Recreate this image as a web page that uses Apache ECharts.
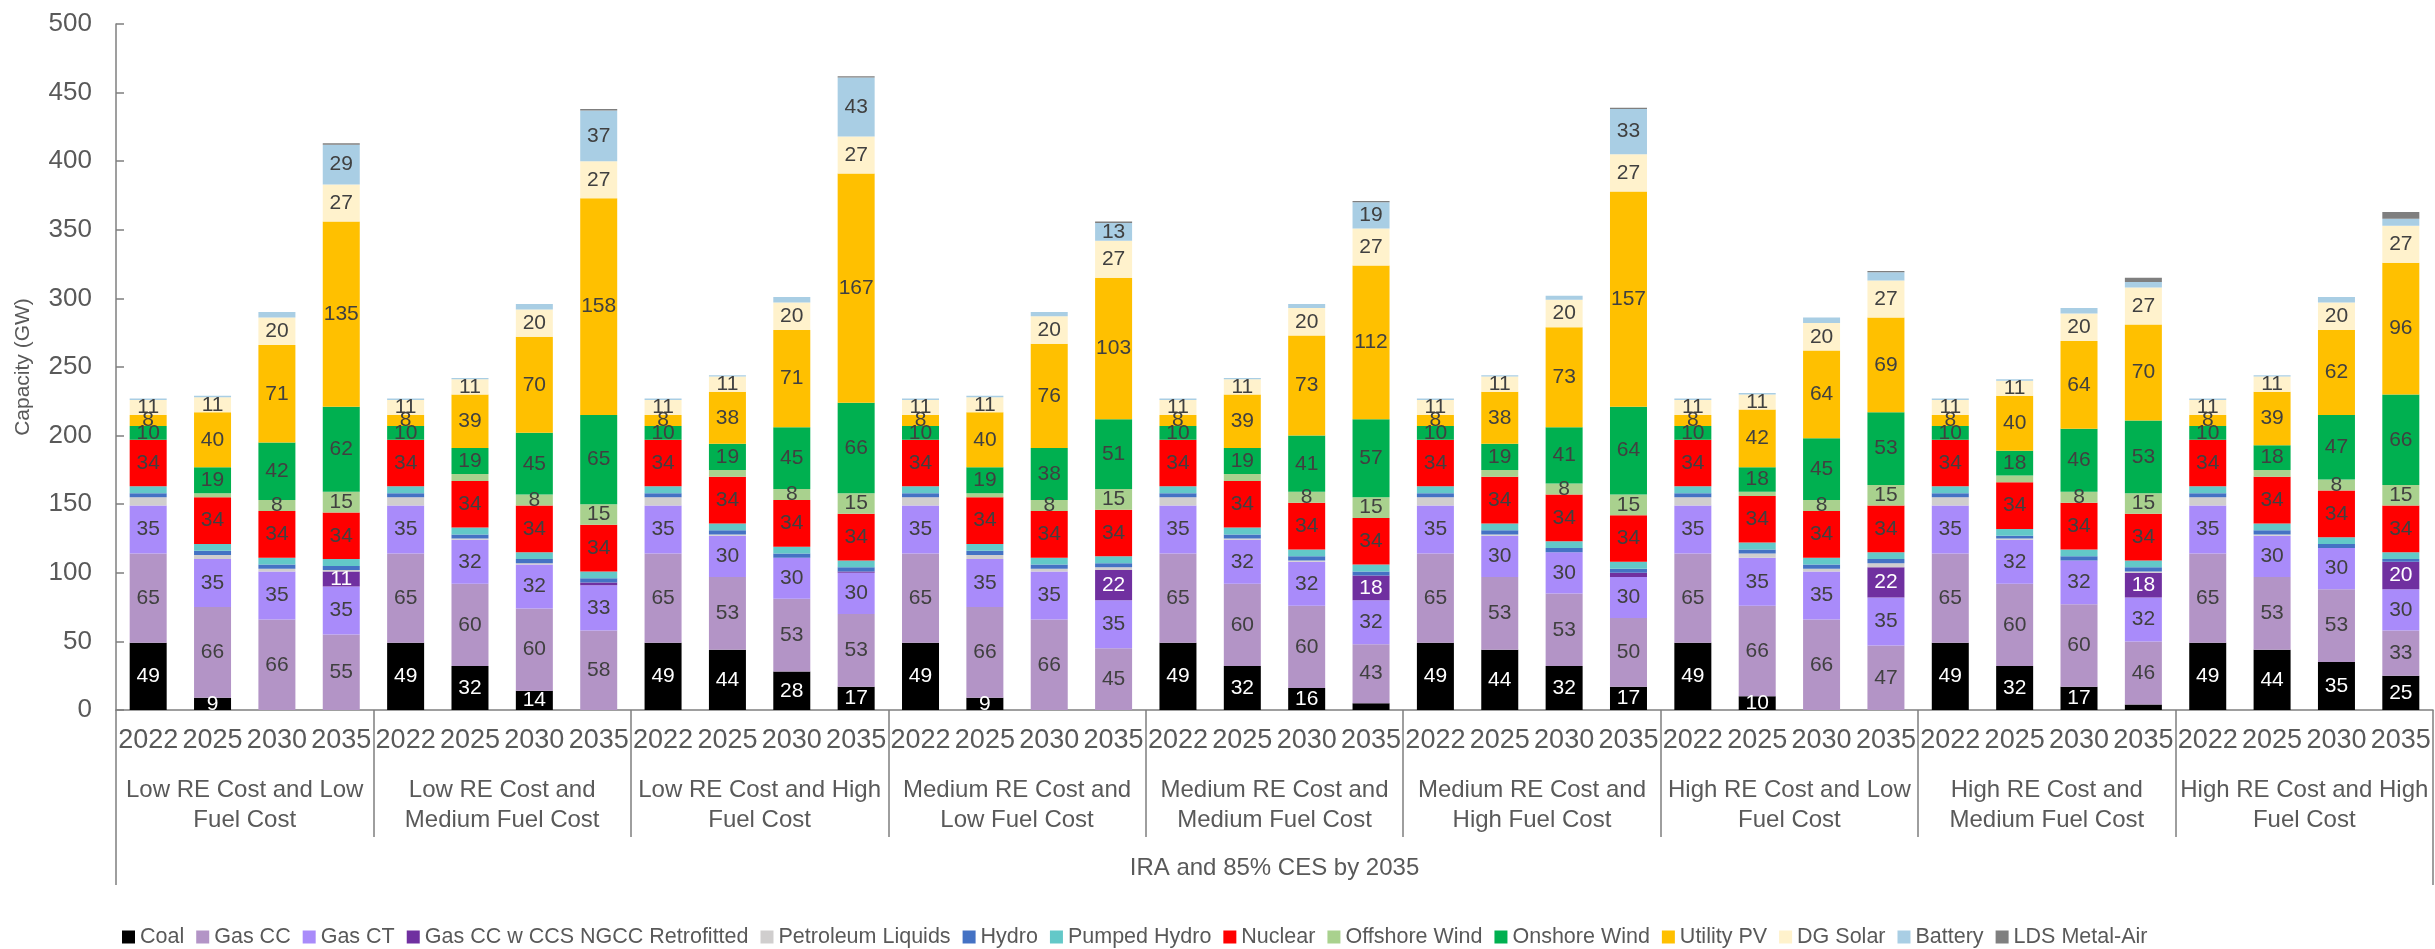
<!DOCTYPE html>
<html>
<head>
<meta charset="utf-8">
<script src="https://cdn.jsdelivr.net/npm/echarts@6/dist/echarts.min.js"></script>
<style>
  html, body { margin: 0; padding: 0; background: #fff; }
  #main { width: 2435px; height: 949px; }
</style>
</head>
<body>
<div id="main"></div>
<script>
// scenario groups, each with 4 years
var years = ['2022', '2025', '2030', '2035'];
var scenarios = [
  'Low RE Cost and Low\nFuel Cost',
  'Low RE Cost and\nMedium Fuel Cost',
  'Low RE Cost and High\nFuel Cost',
  'Medium RE Cost and\nLow Fuel Cost',
  'Medium RE Cost and\nMedium Fuel Cost',
  'Medium RE Cost and\nHigh Fuel Cost',
  'High RE Cost and Low\nFuel Cost',
  'High RE Cost and\nMedium Fuel Cost',
  'High RE Cost and High\nFuel Cost'
];
var groupTitle = ['IRA and 85% CES by 2035'];

// values per bar: LL, LM, LH, ML, MM, MH, HL, HM, HH  x  (2022, 2025, 2030, 2035)
var coal = [49,9,0,0, 49,32,14,0, 49,44,28,17, 49,9,0,0, 49,32,16,5, 49,44,32,17, 49,10,0,0, 49,32,17,4, 49,44,35,25];
var gasCC = [65,66,66,55, 65,60,60,58, 65,53,53,53, 65,66,66,45, 65,60,60,43, 65,53,53,50, 65,66,66,47, 65,60,60,46, 65,53,53,33];
var gasCT = [35,35,35,35, 35,32,32,33, 35,30,30,30, 35,35,35,35, 35,32,32,32, 35,30,30,30, 35,35,35,35, 35,32,32,32, 35,30,30,30];
var gasCCS = [0,0,0,11, 0,0,0,2, 0,0,0,1, 0,0,0,22, 0,0,0,18, 0,0,0,3, 0,0,0,22, 0,0,0,18, 0,0,0,20];
var petroleum = [6,3,2,1, 6,1,1,0, 6,1,0,0, 6,3,2,2, 6,1,1,0, 6,1,0,0, 6,3,2,3, 6,1,0,1, 6,1,0,0];
var hydro = [3,3,3,3, 3,3,3,3, 3,3,3,3, 3,3,3,3, 3,3,3,3, 3,3,3,3, 3,3,3,3, 3,2,3,3, 3,3,3,2];
var pumpedHydro = [5,5,5,5, 5,5,5,5, 5,5,5,5, 5,5,5,5, 5,5,5,5, 5,5,5,5, 5,5,5,5, 5,5,5,5, 5,5,5,5];
var nuclear = [34,34,34,34, 34,34,34,34, 34,34,34,34, 34,34,34,34, 34,34,34,34, 34,34,34,34, 34,34,34,34, 34,34,34,34, 34,34,34,34];
var offshore = [0,3,8,15, 0,5,8,15, 0,5,8,15, 0,3,8,15, 0,5,8,15, 0,5,8,15, 0,3,8,15, 0,5,8,15, 0,5,8,15];
var onshore = [10,19,42,62, 10,19,45,65, 10,19,45,66, 10,19,38,51, 10,19,41,57, 10,19,41,64, 10,18,45,53, 10,18,46,53, 10,18,47,66];
var utilityPV = [8,40,71,135, 8,39,70,158, 8,38,71,167, 8,40,76,103, 8,39,73,112, 8,38,73,157, 8,42,64,69, 8,40,64,70, 8,39,62,96];
var dgSolar = [11,11,20,27, 11,11,20,27, 11,11,20,27, 11,11,20,27, 11,11,20,27, 11,11,20,27, 11,11,20,27, 11,11,20,27, 11,11,20,27];
var battery = [1,1,4,29, 1,1,4,37, 1,1,4,43, 1,1,3,13, 1,1,3,19, 1,1,3,33, 1,1,4,6, 1,1,4,4, 1,1,4,5];
var ldsMetalAir = [0,0,0,1, 0,0,0,1, 0,0,0,1, 0,0,0,1, 0,0,0,1, 0,0,0,1, 0,0,0,1, 0,0,0,3, 0,0,0,5];

var seriesList = [
  ['Coal', coal, '#000000', '#ffffff'],
  ['Gas CC', gasCC, '#B394C6', '#404040'],
  ['Gas CT', gasCT, '#A98BFA', '#404040'],
  ['Gas CC w CCS NGCC Retrofitted', gasCCS, '#7030A0', '#ffffff'],
  ['Petroleum Liquids', petroleum, '#D0CECE', '#404040'],
  ['Hydro', hydro, '#4472C4', '#404040'],
  ['Pumped Hydro', pumpedHydro, '#63C8C8', '#404040'],
  ['Nuclear', nuclear, '#FF0000', '#404040'],
  ['Offshore Wind', offshore, '#A9D18E', '#404040'],
  ['Onshore Wind', onshore, '#00B050', '#404040'],
  ['Utility PV', utilityPV, '#FFC000', '#404040'],
  ['DG Solar', dgSolar, '#FFF2CC', '#404040'],
  ['Battery', battery, '#A9CEE4', '#404040'],
  ['LDS Metal-Air', ldsMetalAir, '#7F7F7F', '#404040']
];

var yearLabels = [];
scenarios.forEach(function () { yearLabels = yearLabels.concat(years); });

var font = 'Liberation Sans, Arial, sans-serif';
var textColor = '#595959';
var axisColor = '#7F7F7F';

var myChart = echarts.init(document.getElementById('main'), null, {renderer: 'canvas'});

var option = {
  backgroundColor: '#ffffff',
  animation: false,
  textStyle: {fontFamily: font},
  grid: {left: 116, right: 2, top: 24, bottom: 239},
  legend: {
    left: 117,
    top: 921,
    itemWidth: 13,
    itemHeight: 13,
    itemGap: 12,
    icon: 'rect',
    textStyle: {fontSize: 21.5, color: textColor, fontFamily: font},
    data: seriesList.map(function (s) { return s[0]; })
  },
  xAxis: [
    { // years
      type: 'category',
      data: yearLabels,
      axisLine: {show: true, lineStyle: {color: axisColor, width: 1.5}},
      axisTick: {show: false},
      axisLabel: {interval: 0, fontSize: 27, margin: 17, color: textColor, fontFamily: font}
    },
    { // scenarios
      type: 'category',
      data: scenarios,
      position: 'bottom',
      axisLine: {show: false},
      axisTick: {show: true, length: 127, lineStyle: {color: axisColor, width: 1.5}},
      axisLabel: {interval: 0, fontSize: 24, lineHeight: 30, margin: 65, color: textColor, fontFamily: font}
    },
    { // outer group
      type: 'category',
      data: groupTitle,
      position: 'bottom',
      axisLine: {show: false},
      axisTick: {show: true, length: 175, lineStyle: {color: axisColor, width: 1.5}},
      axisLabel: {interval: 0, fontSize: 24, margin: 146, color: textColor, fontFamily: font}
    }
  ],
  yAxis: {
    type: 'value',
    min: 0,
    max: 500,
    interval: 50,
    name: 'Capacity (GW)',
    nameLocation: 'middle',
    nameGap: 82,
    nameTextStyle: {fontSize: 21, color: textColor, fontFamily: font},
    axisLine: {show: true, lineStyle: {color: axisColor, width: 1.5}},
    axisTick: {show: true, inside: true, length: 8, lineStyle: {color: axisColor, width: 1.5}},
    axisLabel: {fontSize: 26, margin: 24, color: textColor, fontFamily: font},
    splitLine: {show: false}
  },
  series: seriesList.map(function (s) {
    return {
      name: s[0],
      type: 'bar',
      stack: 'total',
      barWidth: 37,
      data: s[1],
      itemStyle: {color: s[2]},
      label: {
        show: true,
        position: 'inside',
        fontSize: 21,
        fontFamily: font,
        color: s[3],
        formatter: function (p) { return p.value >= 7 ? p.value : ''; }
      }
    };
  })
};

myChart.setOption(option);
</script>
</body>
</html>
